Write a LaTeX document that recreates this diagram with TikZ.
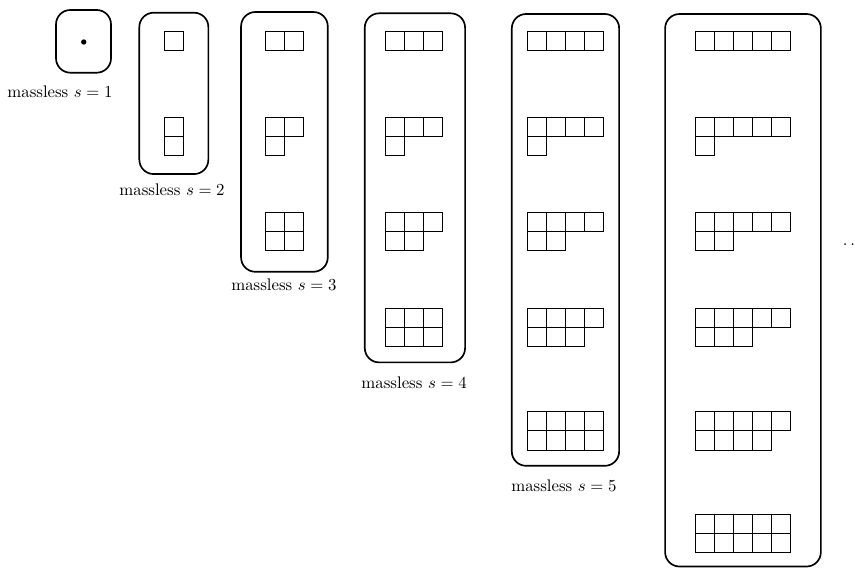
\documentclass[tikz,border=0pt]{standalone}
\usepackage{amsmath}
\usepackage{tikz}
\usetikzlibrary{positioning}
\tikzset{
  frame/.style={draw,line width=1pt,rounded corners=0.3cm},
  cell/.style={draw,line width=0.5pt},
  lab/.style={inner sep=2pt},
}
\newcommand{\cellsz}{0.4}
% young diagram: left x, top y, list of row lengths
\newcommand{\ydiag}[3]{%
  \foreach \len [count=\r] in {#3} {
    \foreach \c in {1,...,\len} {
      \draw[cell] ({#1+(\c-1)*\cellsz},{#2-(\r-1)*\cellsz}) rectangle ++(\cellsz,-\cellsz);
    }
  }%
}

\begin{document}
\begin{tikzpicture}
  \useasboundingbox (0,0) rectangle (17.90,-11.89);
  % s = 1
  \draw[frame] (1.173,-0.209) rectangle (2.324,-1.522);
  \fill (1.753,-0.879) circle (1.6pt);
  \node[lab] (m1) at (1.256,-1.927) {massless $s=1$};
  % s = 2
  \draw[frame] (2.917,-0.266) rectangle (4.362,-3.644);
  \ydiag{3.434}{-0.655}{1}
  \ydiag{3.434}{-2.456}{1,1}
  \node[lab] (m2) at (3.602,-3.979) {massless $s=2$};
  % s = 3 ... 6
  \draw[frame] (5.047,-0.251) rectangle (6.862,-5.690);
  \draw[frame] (7.637,-0.279) rectangle (9.737,-7.587);
  \draw[frame] (10.715,-0.293) rectangle (12.962,-9.752);
  \draw[frame] (13.925,-0.293) rectangle (17.185,-11.86);
  \foreach \s/\x in {3/5.556,4/8.068,5/11.035,6/14.553} {
    \pgfmathtruncatemacro{\w}{\s-1}
    \ydiag{\x}{-0.655}{\w}
    \foreach \k/\y in {1/-2.456,2/-4.439,3/-6.456,4/-8.621,5/-10.77} {
      \ifnum\k<\s \ydiag{\x}{\y}{\w,\k}\fi
    }
  }
  \node[lab] (m3) at (5.943,-5.968) {massless $s=3$};
  \node[lab] (m4) at (8.669,-8.014) {massless $s=4$};
  \node[lab] (m5) at (11.806,-10.177) {massless $s=5$};
  \node[inner sep=0pt,anchor=base west] (more) at (17.64,-5.14) {$\ldotp\ldotp$};
\end{tikzpicture}
\end{document}
